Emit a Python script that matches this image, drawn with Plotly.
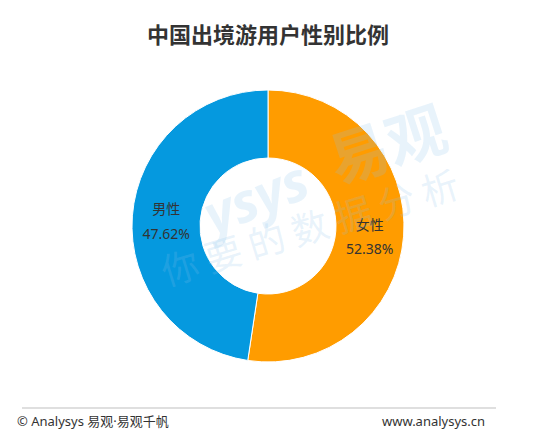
import plotly.graph_objects as go

labels = ["女性", "男性"]
values = [52.38, 47.62]
colors = ["#FF9C00", "#0599DF"]

title_text = "中国出境游用户性别比例"
footer_left = "© Analysys 易观·易观千帆"
footer_right = "www.analysys.cn"

# page has an 8px body margin, so figure coords = page coords - 8
OFF = 8
W, H = 538 - OFF, 448 - OFF


def px(x):
    return (x - OFF) / W


def py(y):
    return 1 - (y - OFF) / H


cx, cy, r = 268, 226, 136

FONT = "Noto Sans CJK SC, Microsoft YaHei, sans-serif"
LFONT = "Noto Sans, Noto Sans CJK SC, sans-serif"


def dom(dy):
    return dict(x=[px(cx - r), px(cx + r)], y=[py(cy + dy + r), py(cy + dy - r)])


fig = go.Figure()

# faint watermark
wm = "rgba(140,195,235,0.2)"
for txt, x, y, ang, size, fam in [
    ("<b><i>ysys</i></b>", 253, 197, -22, 54, LFONT),
    ("<b>易观</b>", 386, 140, -18, 60, FONT),
    ("你 要 的 数 据 分 析", 309, 226, -17, 37, FONT),
]:
    fig.add_annotation(text=txt, x=px(x), y=py(y), xref="paper", yref="paper",
                       xanchor="center", yanchor="middle", showarrow=False,
                       textangle=ang, font=dict(size=size, color=wm, family=fam))

# coloured ring
fig.add_trace(go.Pie(
    labels=labels, values=values, sort=False, direction="clockwise", rotation=0,
    hole=0.5, marker=dict(colors=colors, line=dict(color="#ffffff", width=1)),
    textinfo="none", hoverinfo="label+percent", showlegend=False, domain=dom(0),
))
# label text (transparent ring shifted up)
fig.add_trace(go.Pie(
    labels=labels, values=values, sort=False, direction="clockwise", rotation=0,
    hole=0.5, marker=dict(colors=["rgba(0,0,0,0)"] * 2, line=dict(width=0)),
    texttemplate="%{label}", textposition="inside", insidetextorientation="horizontal",
    textfont=dict(size=14, color="#333333", family=FONT),
    hoverinfo="skip", showlegend=False, domain=dom(-10),
))
# percent text (transparent ring shifted down)
fig.add_trace(go.Pie(
    labels=labels, values=values, sort=False, direction="clockwise", rotation=0,
    hole=0.5, marker=dict(colors=["rgba(0,0,0,0)"] * 2, line=dict(width=0)),
    texttemplate="%{percent:.2%}", textposition="inside", insidetextorientation="horizontal",
    textfont=dict(size=14, color="#333333", family=LFONT),
    hoverinfo="skip", showlegend=False, domain=dom(15),
))

fig.add_annotation(text=footer_left, x=px(15), y=py(421), xref="paper", yref="paper",
                   xanchor="left", yanchor="middle", showarrow=False,
                   font=dict(size=13, color="#333333", family=LFONT))
fig.add_annotation(text=footer_right, x=px(487), y=py(421), xref="paper", yref="paper",
                   xanchor="right", yanchor="middle", showarrow=False,
                   font=dict(size=13, color="#333333", family=LFONT))

fig.add_shape(type="line", xref="paper", yref="paper",
              x0=px(22), x1=px(496), y0=py(408), y1=py(408),
              line=dict(color="#bfbfbf", width=1))

fig.update_layout(
    width=W, height=H,
    margin=dict(l=0, r=0, t=0, b=0),
    paper_bgcolor="#ffffff",
    plot_bgcolor="#ffffff",
    title=dict(text="<b>" + title_text + "</b>", x=px(268), xanchor="center",
               y=py(35), yanchor="middle",
               font=dict(size=22, color="#333333", family=FONT)),
)

fig.write_html("out.html")
